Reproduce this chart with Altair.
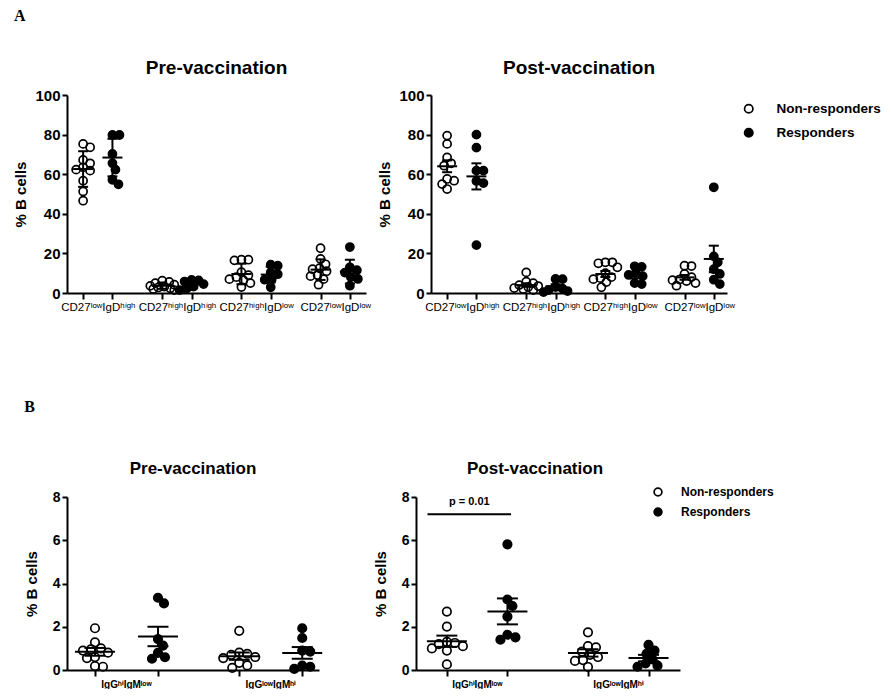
import altair as alt
import pandas as pd

FONT = "Liberation Sans"
SERIES = ["Non-responders", "Responders"]

A_GROUPS = ["CD27ˡᵒʷIgDʰⁱᵍʰ", "CD27ʰⁱᵍʰIgDʰⁱᵍʰ", "CD27ʰⁱᵍʰIgDˡᵒʷ", "CD27ˡᵒʷIgDˡᵒʷ"]
B_GROUPS = ["IgGʰⁱIgMˡᵒʷ", "IgGˡᵒʷIgMʰⁱ"]

# ---- Panel A, pre-vaccination (values per group) ----
A_PRE_NR = [[75.3, 73.6, 67.2, 65.5, 63.5, 62.3, 61.8, 56.7, 51.3, 46.6],
            [6.2, 5.6, 5.0, 4.2, 3.6, 3.2, 2.8, 2.4, 2.0, 1.5],
            [16.8, 16.8, 16.5, 10.5, 9.0, 8.0, 7.0, 6.5, 5.0, 3.0],
            [22.6, 17.2, 14.5, 12.5, 12.0, 11.0, 9.1, 8.5, 7.0, 4.2]]
A_PRE_R = [[79.8, 79.8, 70.2, 65.5, 62.3, 57.2, 54.9],
           [6.6, 6.4, 5.8, 4.5, 3.2, 2.2, 1.5],
           [14.3, 13.8, 10.4, 9.5, 6.9, 6.7, 2.9],
           [23.2, 13.0, 11.5, 10.3, 8.0, 7.1, 3.7]]
A_PRE_MEAN = [[62.6, 3.7, 9.6, 11.8], [68.4, 4.3, 9.3, 10.8]]
A_PRE_ERR = [[9.0, 1.6, 5.2, 5.2], [9.5, 2.2, 4.0, 6.0]]

# ---- Panel A, post-vaccination ----
A_POST_NR = [[79.5, 75.3, 68.5, 65.5, 64.3, 57.6, 56.7, 55.0, 52.5],
             [10.4, 5.7, 5.0, 4.0, 3.5, 3.0, 2.5, 2.0, 1.5],
             [15.5, 15.5, 15.0, 13.0, 10.0, 8.0, 7.5, 7.0, 5.5, 2.9],
             [13.8, 13.6, 9.6, 8.0, 6.8, 6.5, 6.0, 5.0, 3.7]]
A_POST_R = [[80.0, 73.4, 61.8, 61.8, 56.6, 55.5, 24.2],
            [7.1, 7.0, 3.0, 2.2, 1.5, 1.0, 0.5],
            [13.5, 13.2, 10.0, 9.1, 8.5, 5.0, 4.5],
            [53.4, 18.5, 15.5, 12.0, 9.6, 6.7, 4.5]]
A_POST_MEAN = [[64.0, 4.0, 9.6, 7.9], [58.9, 3.4, 8.8, 17.2]]
A_POST_ERR = [[3.0, 0.9, 1.5, 1.2], [6.6, 1.0, 1.4, 6.7]]

# ---- Panel B, pre-vaccination ----
B_PRE_NR = [[1.93, 1.28, 1.0, 0.95, 0.9, 0.8, 0.6, 0.55, 0.18, 0.15],
            [1.81, 0.8, 0.75, 0.7, 0.6, 0.55, 0.33, 0.21, 0.1]]
B_PRE_R = [[3.34, 3.08, 1.43, 1.13, 0.79, 0.59, 0.52],
           [1.93, 1.48, 0.9, 0.85, 0.2, 0.15, 0.05]]
B_PRE_MEAN = [[0.84, 0.64], [1.55, 0.79]]
B_PRE_ERR = [[0.18, 0.17], [0.45, 0.27]]

# ---- Panel B, post-vaccination ----
B_POST_NR = [[2.7, 2.01, 1.3, 1.25, 1.2, 1.1, 1.0, 0.9, 0.26],
             [1.74, 1.1, 1.05, 0.85, 0.7, 0.6, 0.46, 0.42, 0.14]]
B_POST_R = [[5.81, 3.26, 2.96, 2.47, 1.63, 1.51, 1.40],
            [1.16, 0.9, 0.75, 0.49, 0.3, 0.2, 0.15]]
B_POST_MEAN = [[1.33, 0.79], [2.71, 0.55]]
B_POST_ERR = [[0.26, 0.17], [0.6, 0.15]]

P_LINE = {"x1": -0.32, "x2": 1.06, "y": 7.2, "label": "p = 0.01"}


def swarm(values, center, ppx, ppy, dmin, maxoff, step=1.0):
    """Deterministic beeswarm: sideways offsets (px) limited to +/- maxoff."""
    order = sorted(range(len(values)), key=lambda i: -values[i])
    cands = [0.0]
    j = 1
    while j * step <= maxoff:
        cands += [j * step, -j * step]
        j += 1
    placed, xs = [], [0.0] * len(values)
    for i in order:
        ypx = values[i] * ppy
        best, bestd = 0.0, -1.0
        for c in cands:
            d = min([((c - px) ** 2 + (ypx - py) ** 2) ** 0.5 for px, py in placed] or [1e9])
            if d >= dmin:
                best = c
                break
            if d > bestd:
                best, bestd = c, d
        placed.append((best, ypx))
        xs[i] = center + best / ppx
    return xs


def panel(title, groups, nr, r, means, errs, P, legend=None, extra=None):
    ppx = P["width"] / (P["xdom"][1] - P["xdom"][0])
    ppy = P["height"] / (P["ydom"][1] - P["ydom"][0])
    pts = [nr, r]
    rows, stats = [], []
    for gi in range(len(groups)):
        for si, s in enumerate(SERIES):
            c = gi * P["gap"] + si
            vals = pts[si][gi]
            xs = swarm(vals, c, ppx, ppy, P["dmin"], P["maxoff"])
            rows += [{"series": s, "x": x, "value": v} for x, v in zip(xs, vals)]
            m, e = means[si][gi], errs[si][gi]
            stats.append({"series": s, "x": c, "mean": m, "lo": m - e, "hi": m + e})
    df = pd.DataFrame(rows)
    st = pd.DataFrame(stats)

    tickvals = [round(gi * P["gap"] + si, 4) for gi in range(len(groups)) for si in (0, 1)]
    expr = ""
    for gi, g in enumerate(groups):
        expr += f"abs(datum.value - {round(gi * P['gap'], 4)}) < 0.01 ? '{g}' : "
    expr += "''"

    xaxis = alt.Axis(values=tickvals, labelExpr=expr, labelOffset=P["loff"], domainWidth=2,
                     domainColor="black", tickColor="black", tickWidth=2, tickSize=6,
                     labelFont=FONT, labelFontSize=P["xlfs"], labelFontWeight=P["xlfw"],
                     labelColor="black", labelOverlap=False, labelFlush=False,
                     labelPadding=P["xlpad"], labelAngle=0, grid=False, title=None)
    yaxis = alt.Axis(values=P["yticks"], domainWidth=2, domainColor="black", tickColor="black",
                     tickWidth=2, tickSize=5, labelFont=FONT, labelFontSize=P["ylfs"],
                     labelFontWeight="bold", labelColor="black", labelPadding=2, grid=False,
                     title="% B cells", titleFont=FONT, titleFontSize=P["ytfs"],
                     titleFontWeight="bold", titleColor="black", titlePadding=P["tpad"])
    xs_ = alt.Scale(domain=P["xdom"], nice=False, zero=False)
    ys_ = alt.Scale(domain=P["ydom"], nice=False, zero=False)

    def X(f):
        return alt.X(f, scale=xs_, axis=xaxis, title=None)

    def Y(f):
        return alt.Y(f, scale=ys_, axis=yaxis, title="% B cells")

    fill = alt.Fill("series:N", scale=alt.Scale(domain=SERIES, range=["transparent", "black"]),
                    legend=legend)
    points = alt.Chart(df).mark_point(filled=True, shape="circle", stroke="black",
                                      strokeWidth=1.7, size=P["size"], opacity=1).encode(
        x=X("x:Q"), y=Y("value:Q"), fill=fill)
    mean = alt.Chart(st).mark_tick(orient="horizontal", size=P["mw"], thickness=2,
                                   color="black", opacity=1).encode(x=X("x:Q"), y=Y("mean:Q"))
    rule = alt.Chart(st).mark_rule(strokeWidth=2, color="black").encode(
        x=X("x:Q"), y=Y("lo:Q"), y2="hi:Q")
    cap_lo = alt.Chart(st).mark_tick(orient="horizontal", size=P["cw"], thickness=2,
                                     color="black", opacity=1).encode(x=X("x:Q"), y=Y("lo:Q"))
    cap_hi = alt.Chart(st).mark_tick(orient="horizontal", size=P["cw"], thickness=2,
                                     color="black", opacity=1).encode(x=X("x:Q"), y=Y("hi:Q"))
    layers = [points, mean, rule, cap_lo, cap_hi]
    if extra is not None:
        ed = pd.DataFrame([extra])
        ed["xm"] = (ed["x1"] + ed["x2"]) / 2
        layers.append(alt.Chart(ed).mark_rule(strokeWidth=2, color="black").encode(
            x=X("x1:Q"), x2="x2:Q", y=Y("y:Q")))
        layers.append(alt.Chart(ed).mark_text(font=FONT, fontSize=11, fontWeight="bold",
                                              dy=-12, color="black").encode(
            x=X("xm:Q"), y=Y("y:Q"), text="label:N"))
    return alt.layer(*layers).properties(
        width=P["width"], height=P["height"],
        title=alt.TitleParams(title, font=FONT, fontSize=P["tfs"], fontWeight="bold",
                              color="black", offset=P["toff"], dx=P.get("tdx", 0)))


def legend_params(x, y, fs, sym, rowpad, loff):
    return alt.Legend(orient="none", legendX=x, legendY=y, title=None, labelFont=FONT,
                      labelFontSize=fs, labelFontWeight="bold", labelColor="black",
                      symbolType="circle", symbolStrokeColor="black", symbolStrokeWidth=1.7,
                      symbolSize=sym, rowPadding=rowpad, labelOffset=loff)


A_common = dict(height=198, gap=2.7, dmin=7.0, maxoff=12, size=65, mw=20, cw=10, loff=14.7,
                xlfs=11.5, xlfw="normal", xlpad=2, yticks=[0, 20, 40, 60, 80, 100],
                ydom=[0, 100], ylfs=15, ytfs=15, tpad=6, tfs=19, toff=10)
B_common = dict(height=173, dmin=8.0, maxoff=17, size=72, mw=40, cw=21, xlfs=10, xlfw="bold",
                xlpad=3, yticks=[0, 2, 4, 6, 8], ydom=[0, 8], ylfs=14, ytfs=15, tpad=13,
                tfs=17, toff=12)

PA_L = dict(A_common, width=299, xdom=[-0.55, 9.65])
PA_R = dict(A_common, width=296, xdom=[-0.55, 9.55])
PB_L = dict(B_common, width=252, gap=2.29, xdom=[-0.444, 3.556], loff=31)
PB_R = dict(B_common, width=264, gap=2.33, xdom=[-0.51, 3.85], loff=30, tdx=-13, toff=8)

a_left = panel("Pre-vaccination", A_GROUPS, A_PRE_NR, A_PRE_R, A_PRE_MEAN, A_PRE_ERR, PA_L)
a_right = panel("Post-vaccination", A_GROUPS, A_POST_NR, A_POST_R, A_POST_MEAN, A_POST_ERR, PA_R,
                legend=legend_params(311, 7, 13.5, 70, 8, 21))
b_left = panel("Pre-vaccination", B_GROUPS, B_PRE_NR, B_PRE_R, B_PRE_MEAN, B_PRE_ERR, PB_L)
b_right = panel("Post-vaccination", B_GROUPS, B_POST_NR, B_POST_R, B_POST_MEAN, B_POST_ERR, PB_R,
                legend=legend_params(236, -11, 12, 60, 4, 17), extra=P_LINE)

row_a = alt.hconcat(a_left, a_right, spacing=6).resolve_scale(fill="independent").resolve_legend(
    fill="independent").properties(
    title=alt.TitleParams("A", anchor="start", font="Liberation Serif", fontSize=16,
                          fontWeight="bold", color="black", offset=24, dy=-11))
row_b = alt.hconcat(b_left, b_right, spacing=39).resolve_scale(fill="independent").resolve_legend(
    fill="independent").properties(
    title=alt.TitleParams("B", anchor="start", font="Liberation Serif", fontSize=16,
                          fontWeight="bold", color="black", offset=45))

chart = alt.vconcat(row_a, row_b, spacing=86).resolve_scale(fill="independent").resolve_legend(
    fill="independent").properties(
    padding={"left": 5, "right": 0, "top": 0, "bottom": 0}).configure(
    font=FONT).configure_view(stroke=None)

chart.save("out.html", embed_options={"renderer": "svg", "actions": False})
